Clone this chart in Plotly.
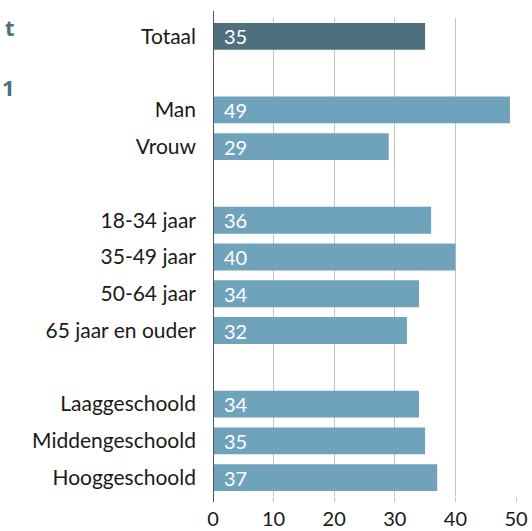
import plotly.graph_objects as go

categories = ["Totaal", " ", "Man", "Vrouw", "  ", "18-34 jaar", "35-49 jaar", "50-64 jaar",
              "65 jaar en ouder", "   ", "Laaggeschoold", "Middengeschoold", "Hooggeschoold"]
values = [35, None, 49, 29, None, 36, 40, 34, 32, None, 34, 35, 37]
x_ticks = [0, 10, 20, 30, 40, 50]

dark = "#4e6f7c"
light = "#6fa3bb"
colors = [dark if c == "Totaal" else light for c in categories]
FONT = "Lato"

fig = go.Figure(go.Bar(
    x=values, y=categories, orientation="h",
    marker=dict(color=colors, line=dict(width=0)),
    width=0.73, hoverinfo="skip",
))

for c, v in zip(categories, values):
    if v is not None:
        fig.add_annotation(x=0, y=c, text=str(v), showarrow=False, xanchor="left",
                           xshift=9, font=dict(color="white", size=20, family=FONT))

L, R, T, B = 213, 16, 18, 35
pw, ph = 532 - L - R, 531 - T - B
def px(xp):
    return (xp - L) / pw
def py(yp):
    return (531 - B - yp) / ph

# title fragments on the left (cut off in the original)
fig.add_annotation(xref="paper", yref="paper", x=px(17), y=py(27), text="<b>t</b>", showarrow=False,
                   xanchor="right", yanchor="middle",
                   font=dict(color="#4e6f7c", size=22, family="Noto Sans"))
fig.add_annotation(xref="paper", yref="paper", x=px(17), y=py(87), text="<b>1</b>", showarrow=False,
                   xanchor="right", yanchor="middle",
                   font=dict(color="#4e6f7c", size=22, family="Noto Sans"))

# y axis line extending slightly beyond plot
fig.add_shape(type="line", xref="x", yref="paper", x0=0, x1=0, y0=py(502), y1=py(11),
              line=dict(color="#555555", width=2), layer="above")

fig.update_layout(
    width=532, height=531,
    margin=dict(l=L, r=R, t=T, b=B),
    plot_bgcolor="white", paper_bgcolor="white",
    showlegend=False,
    font=dict(family=FONT, size=21, color="#1a1a1a"),
    xaxis=dict(range=[0, 50], tickvals=x_ticks, showgrid=True, gridcolor="#c4c4c4", gridwidth=1,
               zeroline=False, showline=False, ticks="outside", ticklen=5, tickcolor="#c4c4c4",
               tickfont=dict(size=20, color="#1a1a1a"), automargin=False, fixedrange=True),
    yaxis=dict(type="category", categoryorder="array", categoryarray=categories,
               autorange="reversed", showgrid=False, zeroline=False, showline=False,
               ticks="", ticklabelstandoff=16, automargin=False,
               tickfont=dict(size=21, color="#1a1a1a")),
)

fig.write_html("out.html", config={"displayModeBar": False, "staticPlot": True},
               post_script="document.body.style.margin='0';document.body.style.overflow='hidden';")
